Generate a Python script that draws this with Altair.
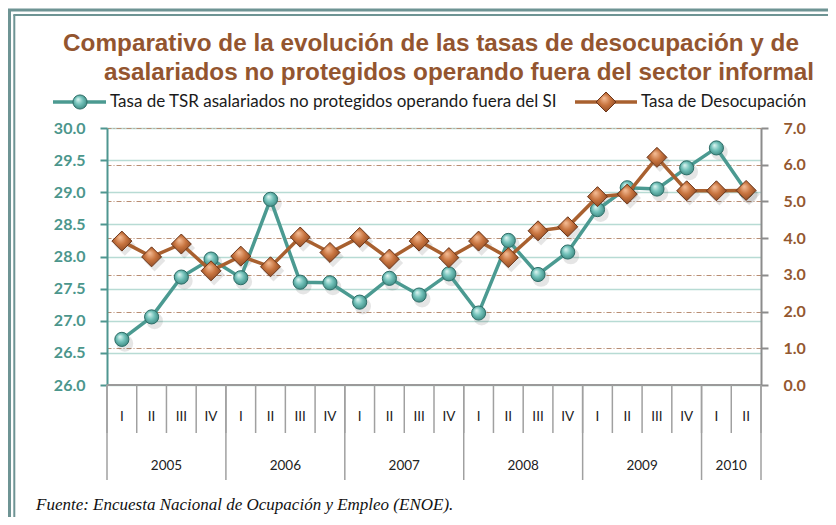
import altair as alt
import pandas as pd

# ---------------- data ----------------
quarters = ["I", "II", "III", "IV"] * 5 + ["I", "II"]
years = ["2005", "2006", "2007", "2008", "2009", "2010"]
quarters_per_year = [4, 4, 4, 4, 4, 2]
tsr = [26.71, 27.06, 27.68, 27.96, 27.67, 28.89, 27.60, 27.59, 27.29, 27.66, 27.40,
       27.73, 27.12, 28.25, 27.72, 28.07, 28.73, 29.07, 29.05, 29.38, 29.69, 29.02]
des = [3.92, 3.49, 3.84, 3.11, 3.51, 3.22, 4.03, 3.61, 4.02, 3.43, 3.92,
       3.47, 3.92, 3.47, 4.20, 4.31, 5.13, 5.20, 6.20, 5.29, 5.29, 5.30]
left_ticks = [26.0, 26.5, 27.0, 27.5, 28.0, 28.5, 29.0, 29.5, 30.0]
right_ticks = [0, 1, 2, 3, 4, 5, 6, 7]
title_lines = ["Comparativo de la evolución de las tasas de desocupación y de",
               "asalariados no protegidos operando fuera del sector informal"]
legend_labels = ["Tasa de TSR asalariados no protegidos operando fuera del SI",
                 "Tasa de Desocupación"]
source_note = "Fuente: Encuesta Nacional de Ocupación y Empleo (ENOE)."

# ---------------- tables ----------------
n = len(quarters)
df = pd.DataFrame({"pos": [i + 0.5 for i in range(n)], "q": quarters,
                   "tsr": tsr, "des": des})
bounds = [0]
for k in quarters_per_year:
    bounds.append(bounds[-1] + k)
ydf = pd.DataFrame({"year": years,
                    "pos": [(bounds[i] + bounds[i + 1]) / 2 for i in range(len(years))]})
ybdf = pd.DataFrame({"b": bounds})
qbdf = pd.DataFrame({"b": list(range(n + 1))})
one = pd.DataFrame({"a": [0]})

W, H = 654, 257
TEAL = "#4B9A91"
BROWN = "#A8602F"
xs = alt.Scale(domain=[0, n], nice=False, zero=False)

circle_fill = alt.RadialGradient(
    gradient="radial",
    stops=[alt.GradientStop(color="#e2f7f4", offset=0),
           alt.GradientStop(color="#74c3bb", offset=0.45),
           alt.GradientStop(color="#2f7b74", offset=1)],
    x1=0.35, y1=0.3, r1=0, x2=0.5, y2=0.5, r2=0.62)
diamond_fill = alt.RadialGradient(
    gradient="radial",
    stops=[alt.GradientStop(color="#f6c09a", offset=0),
           alt.GradientStop(color="#c8743f", offset=0.45),
           alt.GradientStop(color="#7c3d1b", offset=1)],
    x1=0.4, y1=0.3, r1=0, x2=0.5, y2=0.5, r2=0.62)

left_axis = alt.Axis(values=left_ticks, format=".1f", orient="left", title=None,
                     labelFont="Lato", labelFontWeight="bold", labelFontSize=16,
                     labelColor="#4B968C", labelPadding=15,
                     domainColor="#4E9690", domainWidth=2,
                     tickColor="#4E9690", tickSize=7, tickWidth=2,
                     grid=True, gridColor="#B7DBD4", gridWidth=1.5)
right_axis = alt.Axis(values=right_ticks, format=".1f", orient="right", title=None,
                      labelFont="Lato", labelFontWeight="bold", labelFontSize=16,
                      labelColor="#94582F", labelPadding=15,
                      domainColor="#8C8C8C", domainWidth=2,
                      tickColor="#8C8C8C", tickSize=7, tickWidth=2,
                      grid=True, gridColor="#B98E74", gridWidth=1.2,
                      gridDash=[5, 2, 1, 2])

ysl = alt.Scale(domain=[26, 30], nice=False, zero=False)
ysr = alt.Scale(domain=[0, 7], nice=False, zero=True)

# shadows
sh1 = alt.Chart(df).mark_circle(color="#000", opacity=0.10, size=280, xOffset=3, yOffset=4).encode(
    x=alt.X("pos:Q", scale=xs, axis=None), y=alt.Y("tsr:Q", scale=ysl, axis=None))
sh2 = alt.Chart(df).mark_point(shape="diamond", filled=True, color="#000", opacity=0.10,
                               size=460, xOffset=3, yOffset=4).encode(
    x=alt.X("pos:Q", scale=xs, axis=None), y=alt.Y("des:Q", scale=ysr, axis=None))

tsr_ch = alt.Chart(df).mark_line(
    color=TEAL, strokeWidth=3.5,
    point=alt.OverlayMarkDef(shape="circle", size=200, filled=True, fill=circle_fill,
                             stroke="#2E6E68", strokeWidth=1, opacity=1)
).encode(x=alt.X("pos:Q", scale=xs, axis=None), y=alt.Y("tsr:Q", scale=ysl, axis=left_axis))

des_ch = alt.Chart(df).mark_line(
    color=BROWN, strokeWidth=3.5,
    point=alt.OverlayMarkDef(shape="diamond", size=400, filled=True, fill=diamond_fill,
                             stroke="#6B3519", strokeWidth=1, opacity=1)
).encode(x=alt.X("pos:Q", scale=xs, axis=None), y=alt.Y("des:Q", scale=ysr, axis=right_axis))

# x axis decorations
base_line = alt.Chart(one).mark_rule(color="#9A9A9A", strokeWidth=2).encode(
    x=alt.value(0), x2=alt.value(W), y=alt.value(H))
q_sep = alt.Chart(qbdf).mark_rule(color="#A0A0A0", strokeWidth=1.5).encode(
    x=alt.X("b:Q", scale=xs, axis=None), y=alt.value(H), y2=alt.value(H + 48))
y_sep = alt.Chart(ybdf).mark_rule(color="#A0A0A0", strokeWidth=1.5).encode(
    x=alt.X("b:Q", scale=xs, axis=None), y=alt.value(H), y2=alt.value(H + 95))
q_lab = alt.Chart(df).mark_text(font="Lato", fontSize=13.5, color="#222", baseline="middle").encode(
    x=alt.X("pos:Q", scale=xs, axis=None), y=alt.value(H + 32), text="q:N")
y_lab = alt.Chart(ydf).mark_text(font="Lato", fontSize=13.5, color="#222", baseline="middle").encode(
    x=alt.X("pos:Q", scale=xs, axis=None), y=alt.value(H + 81), text="year:N")

# title
t1 = alt.Chart(one).mark_text(text=title_lines[0], font="Liberation Sans", fontWeight="bold",
                              fontSize=24.3, color="#93552F", baseline="middle", align="center").encode(
    x=alt.value(324), y=alt.value(-84))
t2 = alt.Chart(one).mark_text(text=title_lines[1], font="Liberation Sans", fontWeight="bold",
                              fontSize=24.3, color="#93552F", baseline="middle", align="center").encode(
    x=alt.value(352), y=alt.value(-55))

# legend
LY = -26
l1 = alt.Chart(one).mark_rule(color=TEAL, strokeWidth=3.5).encode(
    x=alt.value(-54), x2=alt.value(-1), y=alt.value(LY))
l1p = alt.Chart(one).mark_point(shape="circle", size=200, filled=True, fill=circle_fill,
                                stroke="#2E6E68", strokeWidth=1, opacity=1).encode(
    x=alt.value(-27), y=alt.value(LY))
l1t = alt.Chart(one).mark_text(text=legend_labels[0], font="Lato", fontSize=17, color="#1a1a1a",
                               align="left", baseline="middle").encode(x=alt.value(3), y=alt.value(LY))
l2 = alt.Chart(one).mark_rule(color=BROWN, strokeWidth=3.5).encode(
    x=alt.value(468), x2=alt.value(530), y=alt.value(LY))
l2p = alt.Chart(one).mark_point(shape="diamond", size=400, filled=True, fill=diamond_fill,
                                stroke="#6B3519", strokeWidth=1, opacity=1).encode(
    x=alt.value(499), y=alt.value(LY))
l2t = alt.Chart(one).mark_text(text=legend_labels[1], font="Lato", fontSize=17, color="#1a1a1a",
                               align="left", baseline="middle").encode(x=alt.value(534), y=alt.value(LY))

# source note
src = alt.Chart(one).mark_text(text=source_note, font="Liberation Serif", fontStyle="italic",
                               fontSize=17, color="#111", align="left", baseline="middle").encode(
    x=alt.value(-71), y=alt.value(377))

# frame
FC = "#6E9494"
f1 = alt.Chart(one).mark_rule(color=FC, strokeWidth=3).encode(
    x=alt.value(-97.5), y=alt.value(-118), y2=alt.value(420))
f2 = alt.Chart(one).mark_rule(color=FC, strokeWidth=3).encode(
    x=alt.value(-99), x2=alt.value(740), y=alt.value(-118))
f3 = alt.Chart(one).mark_rule(color=FC, strokeWidth=2).encode(
    x=alt.value(-92.7), y=alt.value(-113), y2=alt.value(420))
f4 = alt.Chart(one).mark_rule(color=FC, strokeWidth=2).encode(
    x=alt.value(-93.7), x2=alt.value(740), y=alt.value(-113))

chart = alt.layer(
    f1, f2, f3, f4, t1, t2, l1, l1p, l1t, l2, l2p, l2t, src,
    base_line, q_sep, y_sep, q_lab, y_lab,
    sh1, sh2, tsr_ch, des_ch
).resolve_scale(y="independent").properties(
    width=W, height=H,
    autosize=alt.AutoSizeParams(type="none"),
    padding={"left": 99, "top": 120, "right": 67, "bottom": 132},
    background="white",
).configure_view(strokeWidth=0)

chart.save("out.html", embed_options={"renderer": "svg", "actions": False})
